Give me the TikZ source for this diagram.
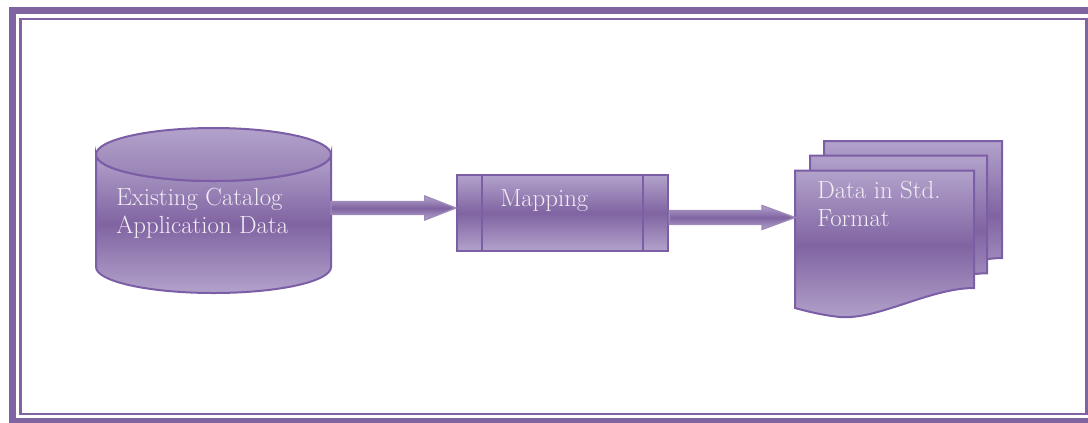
\documentclass[tikz,border=0pt]{standalone}
\usetikzlibrary{calc}

\definecolor{purp}{HTML}{8064A2}
\definecolor{purpline}{HTML}{7B5EA5}
\definecolor{purplite}{HTML}{B2A2CB}
\definecolor{txtgray}{HTML}{F0EDF3}

\tikzset{
  lbl/.style={text=txtgray, font=\fontsize{18.6}{21}\selectfont, align=left, inner sep=0pt},
  shapefill/.style={draw=purpline, line width=1.5pt, top color=purplite, bottom color=purplite, middle color=purp},
}

\begin{document}
\begin{tikzpicture}[x=0.75pt, y=-0.75pt]
        \useasboundingbox (0,0) rectangle (1088,422);
        % frame
        \draw[purp, line width=5.25pt] (12.8,10.5) rectangle (1100,421.2);
        \draw[purp, line width=2pt] (20.7,19) rectangle (1086.5,414);

        % cylinder
        \shade[shapefill] (96,154.5) -- (96,267) arc (180:0:117.5 and 26) -- (331,154.5) arc (0:180:117.5 and 26.5) -- cycle;
        \shade[shapefill, middle color=purplite!70!purp, bottom color=purplite!45!purp] (213.5,154.5) ellipse (117.5 and 26.5);
        \coordinate (cyl) at (331,208);
        \node[lbl, anchor=base west] (cyltxt) at (116,233) {Existing Catalog\\Application Data};

        % mapping box
        \node[shapefill, minimum width=158.6pt, minimum height=56.8pt, inner sep=0pt] (map) at (562.5,213) {};
        \draw[purpline, line width=1.5pt] ($(map.north west)+(26.5,0)$) -- ($(map.south west)+(26.5,0)$);
        \draw[purpline, line width=1.5pt] ($(map.north east)+(-26,0)$) -- ($(map.south east)+(-26,0)$);
        \node[lbl, anchor=base west] (maptxt) at (500,206.7) {Mapping};

        % document stack
        \shade[shapefill] (824,141) -- (1002,141) -- (1002,258) .. controls (960,258) and (908,290) .. (869,287) .. controls (850,285) and (835,281) .. (824,278) -- cycle;
        \shade[shapefill] (810,155.7) -- (987,155.7) -- (987,273.3) .. controls (945,273) and (893,305) .. (855,302) .. controls (836,300) and (821,296) .. (810,293) -- cycle;
        \shade[shapefill] (795,170.7) -- (974,170.7) -- (974,288) .. controls (930,288) and (878,320) .. (840,317) .. controls (821,315) and (806,311) .. (795,308) -- cycle;
        \coordinate (doc) at (795,217.5);
        \node[lbl, anchor=base west] (doctxt) at (817,226.7) {Data in Std.\\Format};

        % block arrows
        \coordinate (a1) at (map.west |- cyl);
        \shade[shapefill, line width=1pt, draw=purplite!60!purp] ($(cyl)+(0,-6.5)$) -- ($(a1)+(-31,-6.5)$) -- ($(a1)+(-31,-12)$) -- (a1) -- ($(a1)+(-31,12)$) -- ($(a1)+(-31,6.5)$) -- ($(cyl)+(0,6.5)$) -- cycle;
        \coordinate (a2) at (map.east |- doc);
        \shade[shapefill, line width=1pt, draw=purplite!60!purp] ($(a2)+(0,-7)$) -- ($(doc)+(-33,-7)$) -- ($(doc)+(-33,-12)$) -- (doc) -- ($(doc)+(-33,12)$) -- ($(doc)+(-33,7)$) -- ($(a2)+(0,7)$) -- cycle;
\end{tikzpicture}
\end{document}
